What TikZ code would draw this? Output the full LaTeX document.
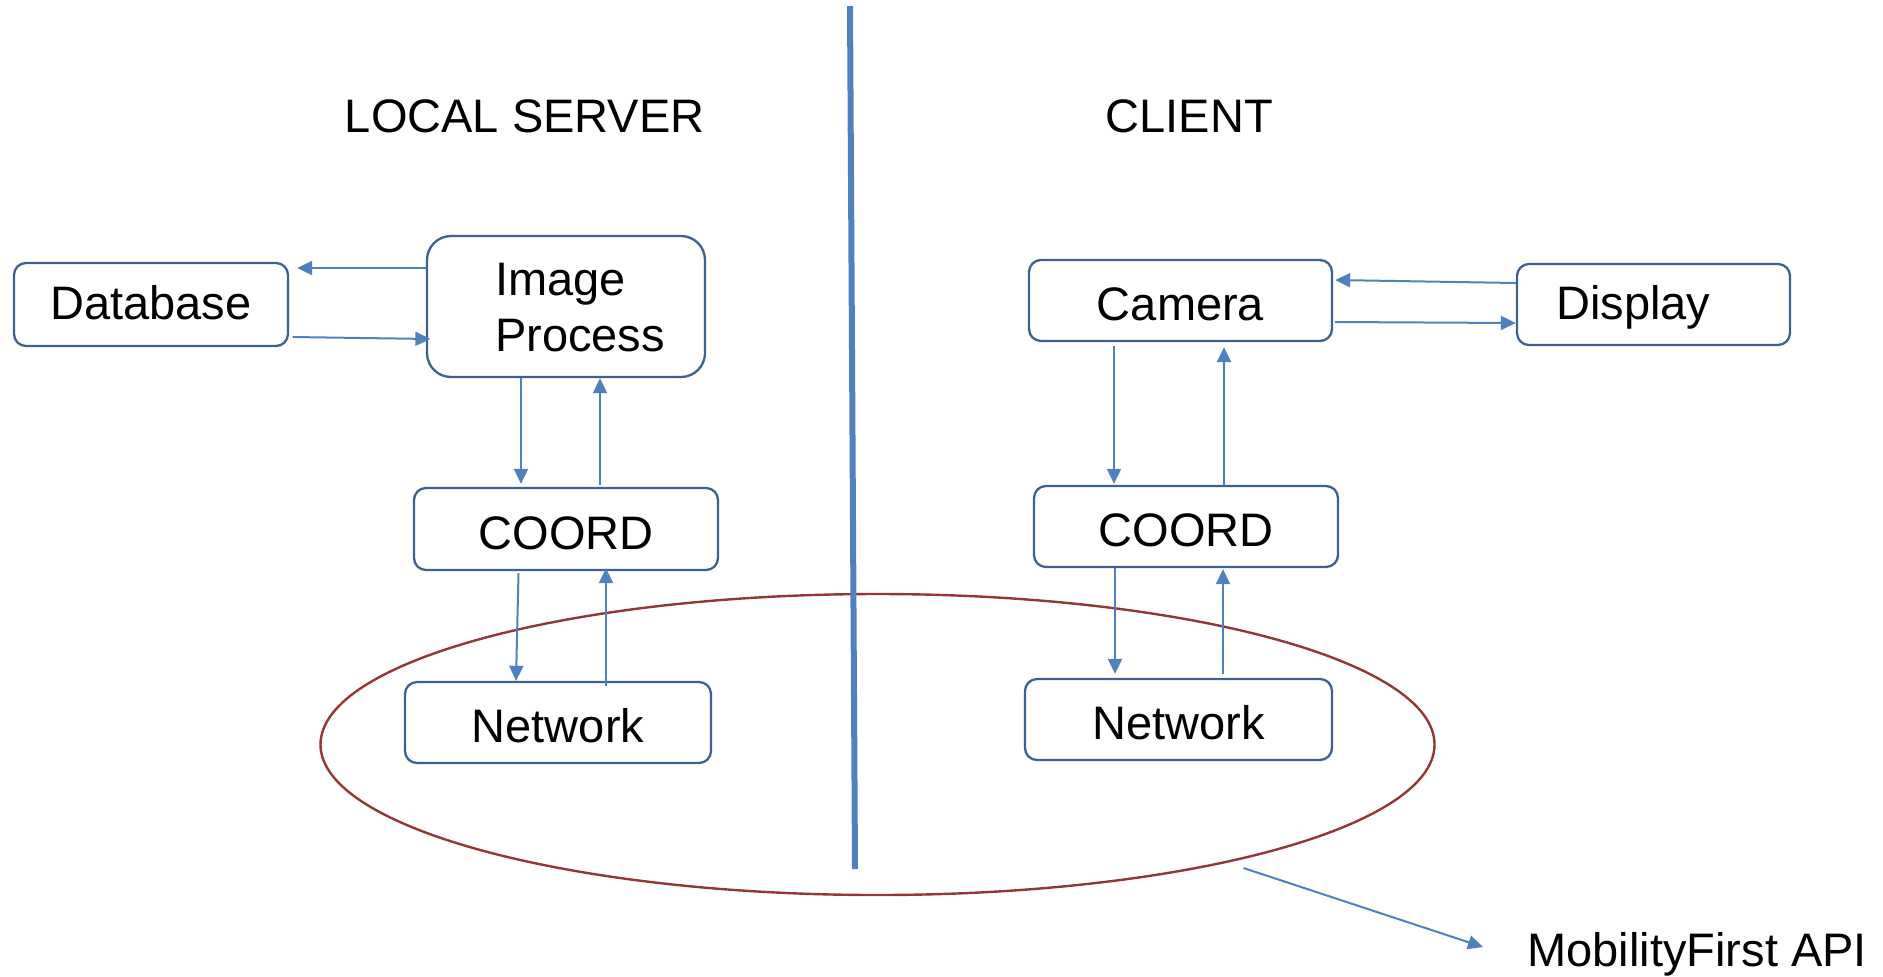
\documentclass[tikz,border=0pt]{standalone}
\usepackage{fontspec}
\setmainfont{Liberation Sans}
\usetikzlibrary{arrows.meta,calc,shapes.geometric}
\definecolor{boxline}{RGB}{62,96,146}
\definecolor{flow}{RGB}{79,129,189}
\definecolor{apiring}{RGB}{148,54,52}
\begin{document}
\begin{tikzpicture}[x=0.5pt,y=-0.5pt,
  txt/.style={font=\fontsize{23.5}{28}\selectfont, inner sep=0pt},
  capbox/.style={txt, text height=16.8pt, text depth=0pt},
  block/.style={draw=boxline, line width=1.15pt, rounded corners=6pt, fill=white, inner sep=0pt,
                txt, text height=20pt, text depth=0pt},
  link/.style={draw=flow, line width=1pt, -{Triangle[length=7.5pt,width=7pt]}},
]
\useasboundingbox (0,0) rectangle (1883,976);

% headings
\node[capbox] (hserver) at (524.7,115.5) {LOCAL SERVER};
\node[capbox] (hclient) at (1189.3,115.5) {CLIENT};

% ring around the network layer
\node[ellipse, draw=apiring, line width=1.2pt, minimum width=557pt, minimum height=150.5pt, inner sep=0pt] (ring) at (877.5,744.5) {};

% divider between server and client
\coordinate (divtop) at (850,6);
\coordinate (divbot) at (855,869);
\draw[flow, line width=3pt] (divtop) -- (divbot);

% server side
\node[block, text height=16.8pt, text depth=2pt, minimum width=137pt, minimum height=41.5pt] (db) at (151,304.5) {Database};
\node[block, rounded corners=12pt, minimum width=139pt, minimum height=70.5pt] (ip) at (566,306.5) {};
\node[txt, align=left] (iptext) at (580,307.2) {Image\\Process};
\node[block, minimum width=152pt, minimum height=41pt] (cl) at (566,529) {COORD};
\node[block, minimum width=153pt, minimum height=40.5pt] (nl) at (558,722.5) {Network};

% client side
\node[block, minimum width=151.5pt, minimum height=40.5pt] (cam) at (1180.5,300.5) {Camera};
\node[block, minimum width=136.5pt, minimum height=40.5pt] (disp) at (1653.5,304.5) {};
\node[capbox] (disptext) at (1633.3,302.8) {Display};
\node[block, minimum width=152pt, minimum height=40.5pt] (cr) at (1186,526.5) {COORD};
\node[block, minimum width=153.5pt, minimum height=40.5pt] (nr) at (1178.5,719.5) {Network};

% API label
\node[capbox, anchor=west] (api) at (1527,950) {MobilityFirst API};

% server connectors
\draw[link] ($(ip.west)+(0,-38.5)$) -- ($(db.east)+(8,-36.5)$);
\draw[link] ($(db.east)+(3.5,32.5)$) -- ($(ip.west)+(4.5,32.5)$);
\draw[link] ($(ip.south)+(-45,0)$) -- ($(cl.north)+(-45,-3)$);
\draw[link] ($(cl.north)+(34,-2)$) -- ($(ip.south)+(34,0)$);
\draw[link] ($(cl.south)+(-47.5,2)$) -- ($(nl.north)+(-42,0)$);
\draw[link] ($(nl.north)+(48,5)$) -- ($(cl.south)+(40,-3)$);

% client connectors
\draw[link] ($(disp.west)+(0,-21.5)$) -- ($(cam.east)+(2,-20.5)$);
\draw[link] ($(cam.east)+(2,21.5)$) -- ($(disp.west)+(0,18.5)$);
\draw[link] ($(cam.south)+(-66.5,4)$) -- ($(cr.north)+(-72,-1)$);
\draw[link] ($(cr.north)+(38,0)$) -- ($(cam.south)+(43.5,5)$);
\draw[link] ($(cr.south)+(-71,0)$) -- ($(nr.north)+(-63.5,-4)$);
\draw[link] ($(nr.north)+(44.5,-4)$) -- ($(cr.south)+(37,1)$);

% pointer from the ring to its label
\coordinate (tail) at ($(ring.center)+(366,123.5)$);
\draw[link] (tail) -- ($(api.west)+(-44,-3)$);
\end{tikzpicture}
\end{document}
